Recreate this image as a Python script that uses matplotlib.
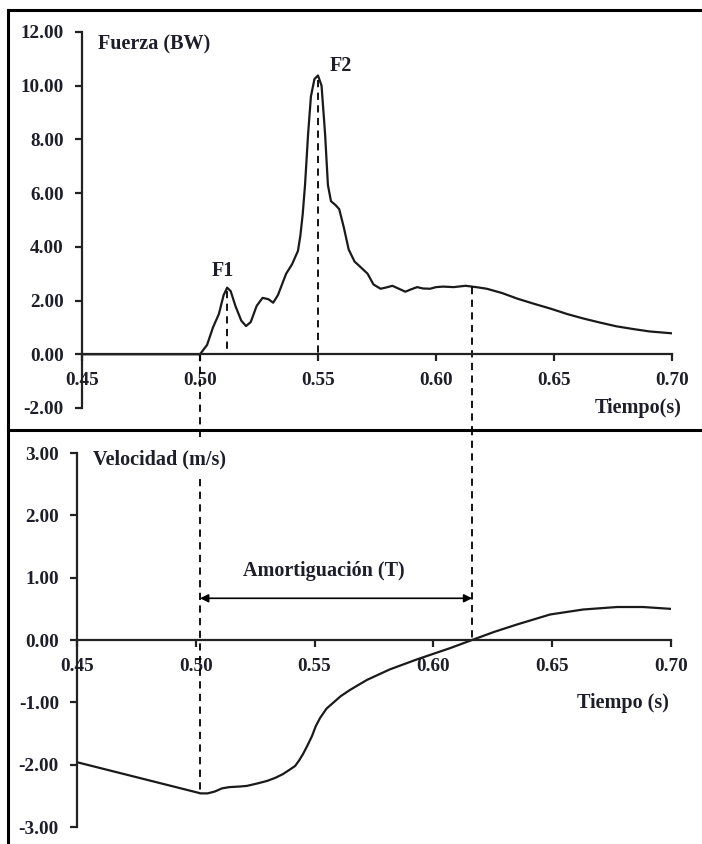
import matplotlib
matplotlib.use("Agg")
import matplotlib.pyplot as plt
from matplotlib.lines import Line2D

# fuerza (BW) vs tiempo (s)
t_f = [0.45, 0.50, 0.503, 0.5055, 0.508, 0.510, 0.5115, 0.513, 0.515, 0.5175,
       0.5195, 0.5215, 0.524, 0.5265, 0.529, 0.531, 0.533, 0.5365, 0.539, 0.5415,
       0.5425, 0.5435, 0.5445, 0.5458, 0.547, 0.5485, 0.550, 0.5515, 0.553, 0.5542,
       0.5555, 0.5575, 0.559, 0.561, 0.563, 0.5655, 0.568, 0.571, 0.5735, 0.5765,
       0.5795, 0.5815, 0.584, 0.587, 0.5895, 0.592, 0.5945, 0.5975, 0.600, 0.603,
       0.6075, 0.6125, 0.617, 0.6215, 0.628, 0.6345, 0.6415, 0.6485, 0.6555, 0.6625,
       0.6695, 0.6765, 0.6835, 0.6905, 0.700]
fuerza = [0, 0, 0.35, 1.0, 1.5, 2.2, 2.48, 2.35, 1.8, 1.25,
          1.05, 1.2, 1.8, 2.1, 2.05, 1.92, 2.2, 3.0, 3.35, 3.85,
          4.4, 5.2, 6.3, 8.2, 9.6, 10.25, 10.38, 10.0, 8.2, 6.3,
          5.7, 5.55, 5.4, 4.7, 3.9, 3.45, 3.25, 3.0, 2.6, 2.44,
          2.5, 2.55, 2.45, 2.33, 2.42, 2.5, 2.45, 2.44, 2.5, 2.52,
          2.5, 2.55, 2.5, 2.44, 2.28, 2.07, 1.88, 1.7, 1.5, 1.33,
          1.18, 1.04, 0.94, 0.85, 0.78]

# velocidad (m/s) vs tiempo (s)
t_v = [0.45, 0.475, 0.50, 0.502, 0.505, 0.508, 0.511, 0.514, 0.5185, 0.5215,
       0.526, 0.530, 0.5335, 0.5367, 0.5395, 0.5418, 0.5435, 0.5451, 0.547, 0.5489,
       0.5505, 0.5523, 0.555, 0.5577, 0.561, 0.5649, 0.572, 0.5817, 0.5931, 0.607,
       0.6162, 0.6255, 0.6352, 0.6491, 0.663, 0.6773, 0.6882, 0.700]
velocidad = [-1.96, -2.2, -2.44, -2.46, -2.46, -2.43, -2.38, -2.36, -2.35, -2.34,
             -2.3, -2.26, -2.21, -2.15, -2.08, -2.02, -1.93, -1.83, -1.69, -1.54,
             -1.38, -1.25, -1.1, -1.01, -0.9, -0.8, -0.64, -0.47, -0.31, -0.13,
             0.0, 0.13, 0.25, 0.41, 0.49, 0.53, 0.53, 0.50]

t_f1 = 0.5115
t_f2 = 0.550
t_ini_f = 0.500
t_fin_f = 0.6152
t_ini_v = 0.5018
t_fin_v = 0.6163

xticks = [0.45, 0.50, 0.55, 0.60, 0.65, 0.70]
yticks_f = [-2, 0, 2, 4, 6, 8, 10, 12]
yticks_v = [-3, -2, -1, 0, 1, 2, 3]

plt.rcParams['font.family'] = ['Liberation Serif', 'DejaVu Serif']
plt.rcParams['font.weight'] = 'bold'
txt = '#1e1e2a'

fig = plt.figure(figsize=(7.02, 8.44), dpi=100)
ax1 = fig.add_axes([0.1168, 0.5166, 0.8405, 0.4455])
ax2 = fig.add_axes([0.1097, 0.0201, 0.8462, 0.4431])

for ax, yt in ((ax1, yticks_f), (ax2, yticks_v)):
    ax.spines['top'].set_visible(False)
    ax.spines['right'].set_visible(False)
    ax.spines['bottom'].set_position(('data', 0))
    ax.spines['left'].set_linewidth(1.6)
    ax.spines['bottom'].set_linewidth(1.6)
    ax.spines['left'].set_color('#222222')
    ax.spines['bottom'].set_color('#222222')
    ax.set_xlim(0.45, 0.70)
    ax.set_xticks(xticks)
    ax.set_xticklabels(['%.2f' % x for x in xticks])
    ax.set_yticks(yt)
    ax.set_yticklabels(['%.2f' % y for y in yt])
    ax.tick_params(axis='both', direction='out', length=5, width=1.6,
                   labelsize=13.8, labelcolor=txt, color='#222222')
    ax.tick_params(axis='y', pad=8)
    ax.tick_params(axis='x', pad=8)
    ax.patch.set_visible(False)

ax1.set_ylim(-2, 12)
ax2.set_ylim(-3, 3)

# top panel
ax1.plot(t_f, fuerza, color='#1a1a1a', lw=1.6)
ax1.plot([t_f1, t_f1], [2.35, 0.2], ls=(0, (4, 3)), color='black', lw=1.3)
ax1.plot([t_f2, t_f2], [10.2, 0], ls=(0, (4, 3)), color='black', lw=1.3)
ax1.plot([t_ini_f, t_ini_f], [0, -3.2], ls=(0, (4, 3)), color='black', lw=1.3, clip_on=False)
ax1.plot([t_fin_f, t_fin_f], [2.5, -2.9], ls=(0, (4, 3)), color='black', lw=1.3, clip_on=False)
ax1.text(0.4568, 11.52, 'Fuerza (BW)', fontsize=14.5, fontweight='bold', color=txt, va='center')
ax1.text(0.5598, 10.74, 'F2', fontsize=14.5, fontweight='bold', color=txt, ha='center', va='center')
ax1.text(0.5097, 3.11, 'F1', fontsize=14.5, fontweight='bold', color=txt, ha='center', va='center')
ax1.text(0.7042, -2.0, 'Tiempo(s)', fontsize=14.5, fontweight='bold', color=txt, ha='right', va='center')

# bottom panel
ax2.plot(t_v, velocidad, color='#1a1a1a', lw=1.6)
ax2.plot([t_ini_v, t_ini_v], [2.58, -2.45], ls=(0, (4, 3)), color='black', lw=1.3)
ax2.plot([t_fin_v, t_fin_v], [3.4, 0], ls=(0, (4, 3)), color='black', lw=1.3, clip_on=False)
ax2.annotate('', xy=(t_ini_v, 0.67), xytext=(t_fin_v, 0.67),
             arrowprops=dict(arrowstyle='<|-|>', color='black', lw=1.2,
                             mutation_scale=12, shrinkA=0, shrinkB=0))
ax2.text(0.5538, 1.11, 'Amortiguación (T)', fontsize=14.5, fontweight='bold', color=txt,
         ha='center', va='center')
ax2.text(0.4567, 2.9, 'Velocidad (m/s)', fontsize=14.5, fontweight='bold', color=txt, va='center')
ax2.text(0.699, -1.01, 'Tiempo (s)', fontsize=14.5, fontweight='bold', color=txt, ha='right', va='center')

# panel frame lines
W, H = 702.0, 844.0
fig.add_artist(Line2D([8 / W, 1.0], [1 - 10 / H, 1 - 10 / H], color='black', lw=2.2,
                      transform=fig.transFigure))
fig.add_artist(Line2D([8 / W, 1.0], [1 - 430 / H, 1 - 430 / H], color='black', lw=2.2,
                      transform=fig.transFigure))
fig.add_artist(Line2D([8 / W, 8 / W], [1 - 10 / H, 0.0], color='black', lw=2.2,
                      transform=fig.transFigure))

fig.savefig('out.png', dpi=100)
